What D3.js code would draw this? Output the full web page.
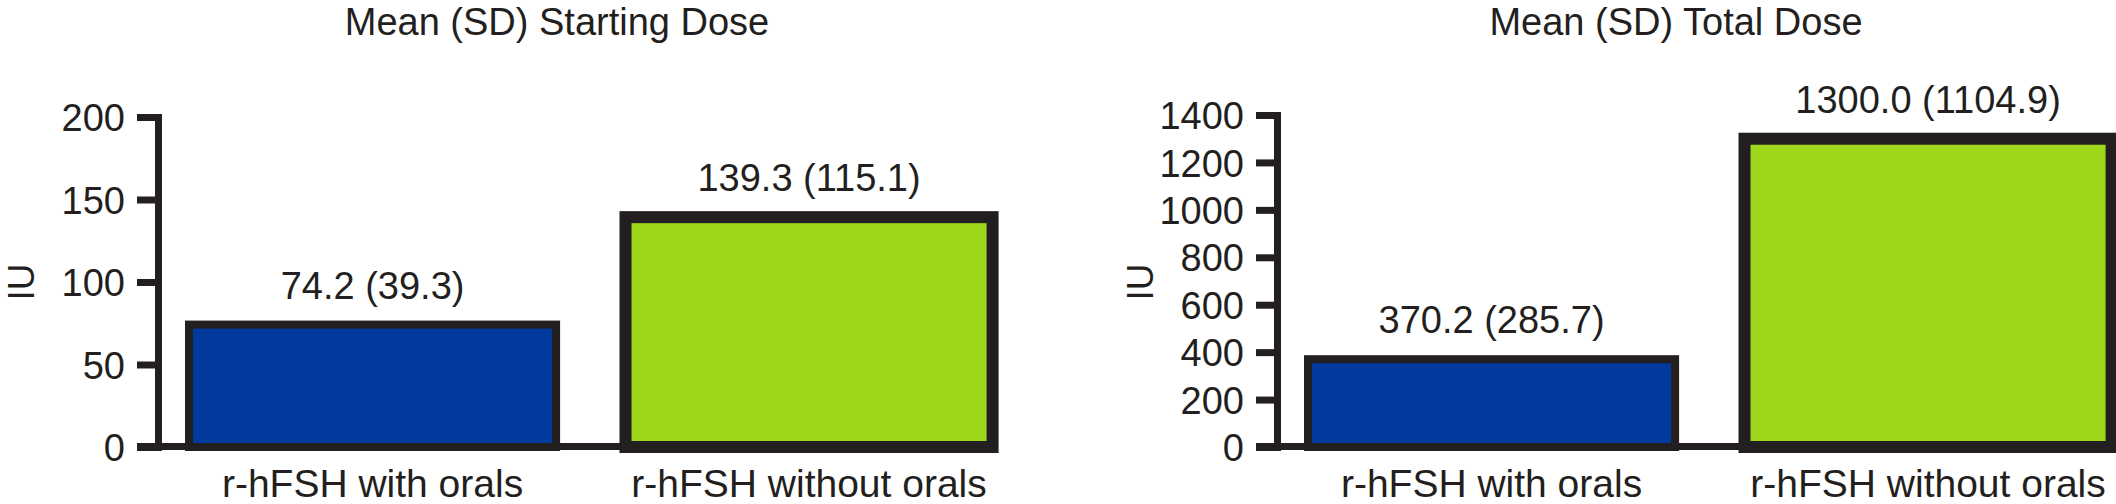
<!DOCTYPE html>
<html>
<head>
<meta charset="utf-8">
<script src="https://cdn.jsdelivr.net/npm/d3@7"></script>
<style>
  body { margin: 0; background: #fff; }
  svg text { font-family: "Liberation Sans", Arial, Helvetica, sans-serif; fill: #231f20; }
</style>
</head>
<body>
<svg id="chart" width="2116" height="504"></svg>
<script>
// data
const categories = ["r-hFSH with orals", "r-hFSH without orals"];
const startingMeans = [74.2, 139.3];
const startingSDs = [39.3, 115.1];
const totalMeans = [370.2, 1300.0];
const totalSDs = [285.7, 1104.9];
const startingTicks = [0, 50, 100, 150, 200];
const totalTicks = [0, 200, 400, 600, 800, 1000, 1200, 1400];
const panelTitles = ["Mean (SD) Starting Dose", "Mean (SD) Total Dose"];
const yLabel = "IU";

const ink = "#231f20";
const fills = ["#003a9c", "#9dd61b"];
const barStroke = [8, 12];
const fmt = d3.format(".1f");

const svg = d3.select("#chart");

function drawPanel(axisX, yTop, means, sds, ticks, title) {
  const g = svg.append("g");

  const y = d3.scaleLinear()
    .domain([0, d3.max(ticks)])
    .range([447, yTop]);

  // bars start ~30px right of the axis, 367px wide, 436.5px apart
  const x = d3.scaleBand()
    .domain(categories)
    .range([axisX + 31, axisX + 31 + 803.6])
    .paddingInner(0.159)
    .paddingOuter(0);

  // y axis
  const yAxis = d3.axisLeft(y)
    .tickValues(ticks)
    .tickFormat(d3.format("d"))
    .tickSize(21)
    .tickSizeOuter(0)
    .tickPadding(12);

  const ax = g.append("g")
    .attr("transform", `translate(${axisX},0)`)
    .call(yAxis);
  ax.select(".domain")
    .attr("stroke", ink)
    .attr("stroke-width", 7)
    .attr("stroke-linecap", "square");
  ax.selectAll(".tick line")
    .attr("stroke", ink)
    .attr("stroke-width", 7);
  ax.selectAll(".tick text")
    .attr("fill", ink)
    .style("font-size", "38px")
    .attr("dy", "0.36em");

  // baseline from the 0 tick across to the second bar
  g.append("line")
    .attr("x1", axisX - 21)
    .attr("x2", x(categories[1]) + x.bandwidth() / 2)
    .attr("y1", y(0) - 0.5)
    .attr("y2", y(0) - 0.5)
    .attr("stroke", ink)
    .attr("stroke-width", 7);

  // bars
  g.selectAll(".bar")
    .data(means)
    .enter()
    .append("rect")
    .attr("class", "bar")
    .attr("x", (d, i) => x(categories[i]))
    .attr("y", d => y(d))
    .attr("width", x.bandwidth())
    .attr("height", d => y(0) - y(d))
    .attr("fill", (d, i) => fills[i])
    .attr("stroke", ink)
    .attr("stroke-width", (d, i) => barStroke[i]);

  // value labels
  g.selectAll(".val")
    .data(means)
    .enter()
    .append("text")
    .attr("class", "val")
    .attr("x", (d, i) => x(categories[i]) + x.bandwidth() / 2)
    .attr("y", d => y(d) - 26)
    .attr("text-anchor", "middle")
    .style("font-size", "38px")
    .text((d, i) => `${fmt(d)} (${fmt(sds[i])})`);

  // category labels
  g.selectAll(".cat")
    .data(categories)
    .enter()
    .append("text")
    .attr("class", "cat")
    .attr("x", d => x(d) + x.bandwidth() / 2)
    .attr("y", 497)
    .attr("text-anchor", "middle")
    .style("font-size", "39px")
    .text(d => d);

  // title
  g.append("text")
    .attr("x", axisX + 399)
    .attr("y", 35)
    .attr("text-anchor", "middle")
    .style("font-size", "38px")
    .text(title);

  // y label
  g.append("text")
    .attr("transform", `translate(${axisX - 124},282) rotate(-90)`)
    .attr("text-anchor", "middle")
    .style("font-size", "37px")
    .text(yLabel);
}

drawPanel(158, 117, startingMeans, startingSDs, startingTicks, panelTitles[0]);
drawPanel(1277, 115, totalMeans, totalSDs, totalTicks, panelTitles[1]);
</script>
</body>
</html>
